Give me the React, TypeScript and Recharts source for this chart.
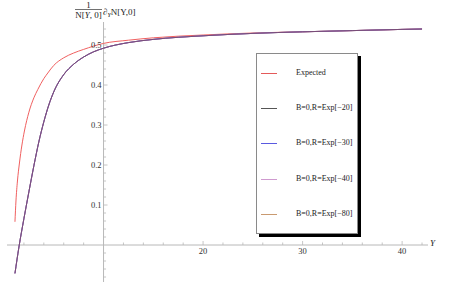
import { LineChart, Line, XAxis, YAxis, ReferenceLine, ReferenceDot, Legend } from "recharts";

const expectedY = [1.1, 1.2, 1.35, 1.55, 1.8, 2.05, 2.5, 3.0, 3.4, 4.0, 4.4, 5.0, 6.0, 7.0, 8.0, 10, 12.5, 15, 20, 25, 30, 35, 40, 42];
const expectedValues = [0.058, 0.11, 0.16, 0.205, 0.25, 0.285, 0.332, 0.368, 0.389, 0.416, 0.43, 0.449, 0.468, 0.48, 0.489, 0.504, 0.512, 0.518, 0.525, 0.53, 0.533, 0.536, 0.539, 0.54];

// the four cutoff curves lie on top of each other
const cutoffY = [1.1, 1.5, 2.0, 2.5, 3.0, 3.5, 4.0, 4.5, 5.0, 6.0, 7.0, 8.0, 9.0, 10, 12.5, 15, 20, 25, 30, 35, 40, 42];
const cutoffValues = [-0.071, -0.005, 0.066, 0.133, 0.198, 0.258, 0.308, 0.35, 0.383, 0.426, 0.452, 0.47, 0.483, 0.492, 0.506, 0.514, 0.523, 0.529, 0.533, 0.536, 0.539, 0.54];

const legendNames = ["Expected", "B=0,R=Exp[\u221220]", "B=0,R=Exp[\u221230]", "B=0,R=Exp[\u221240]", "B=0,R=Exp[\u221280]"];
const legendColors = ["#e45a5a", "#555555", "#5a5ae0", "#cf9acf", "#c99a70"];

const xMajorTicks = [20, 30, 40];
const xMinorTicks = [2, 4, 6, 8, 12, 14, 16, 18, 22, 24, 26, 28, 32, 34, 36, 38, 42];
const yMajorTicks = [0.1, 0.2, 0.3, 0.4, 0.5];
const yTickLabels = ["0.1", "0.2", "0.3", "0.4", "0.5"];
const yMinorTicks = [-0.08, -0.06, -0.04, -0.02, 0.02, 0.04, 0.06, 0.08, 0.12, 0.14, 0.16, 0.18, 0.22, 0.24, 0.26, 0.28, 0.32, 0.34, 0.36, 0.38, 0.42, 0.44, 0.46, 0.48, 0.52, 0.54];

const expectedData = expectedY.map((y, i) => ({ Y: y, v: expectedValues[i] }));
const cutoffData = cutoffY.map((y, i) => ({ Y: y, v: cutoffValues[i] }));

const SERIF = "'Liberation Serif', 'DejaVu Serif', serif";
const AXIS = "#b8b8b8";

const xTick = (label: string | null, len: number) => (p: any) => (
  <g>
    <line x1={p.cx} y1={p.cy} x2={p.cx} y2={p.cy - len} stroke={AXIS} strokeWidth={0.8} />
    {label && (
      <text x={p.cx} y={p.cy + 8.5} textAnchor="middle" fontSize={8.5} fontFamily={SERIF} fill="#333">
        {label}
      </text>
    )}
  </g>
);

const yTick = (label: string | null, len: number) => (p: any) => (
  <g>
    <line x1={p.cx} y1={p.cy} x2={p.cx + len} y2={p.cy} stroke={AXIS} strokeWidth={0.8} />
    {label && (
      <text x={p.cx - 2} y={p.cy + 3} textAnchor="end" fontSize={8.5} fontFamily={SERIF} fill="#333">
        {label}
      </text>
    )}
  </g>
);

const LegendBox = () => (
  <div
    style={{
      width: 100,
      height: 179,
      border: "1px solid #8a8a8a",
      background: "#fff",
      boxShadow: "3px 3px 0 #000",
      position: "relative",
      fontFamily: SERIF,
      fontSize: 8,
      color: "#222",
    }}
  >
    {legendNames.map((name, i) => (
      <div key={name} style={{ position: "absolute", left: 0, top: Math.round(14 + i * 35.2), height: 10, width: 100 }}>
        <div style={{ position: "absolute", left: 4, top: 5, width: 16, height: 1, background: legendColors[i] }} />
        <div style={{ position: "absolute", left: 39, top: 0, whiteSpace: "nowrap", lineHeight: "10px", fontFamily: SERIF }}>{name}</div>
      </div>
    ))}
  </div>
);

export default function App() {
  return (
    <div style={{ position: "absolute", left: 0, top: 0, width: 463, height: 289, background: "#fff" }}>
      <LineChart width={463} height={289} margin={{ top: 22, left: 7, right: 35, bottom: 7 }}>
        <XAxis type="number" dataKey="Y" domain={[0.3, 42.6]} allowDataOverflow hide />
        <YAxis type="number" domain={[-0.0925, 0.5575]} allowDataOverflow hide />
        <ReferenceLine x={10} stroke={AXIS} strokeWidth={1} />
        <ReferenceLine y={0} stroke={AXIS} strokeWidth={1} />
        {xMinorTicks.map((t) => (
          <ReferenceDot key={"xm" + t} x={t} y={0} r={0} shape={xTick(null, 2.5)} />
        ))}
        {xMajorTicks.map((t) => (
          <ReferenceDot key={"xM" + t} x={t} y={0} r={0} shape={xTick(String(t), 4)} />
        ))}
        {yMinorTicks.map((t) => (
          <ReferenceDot key={"ym" + t} x={10} y={t} r={0} shape={yTick(null, 2.5)} />
        ))}
        {yMajorTicks.map((t, i) => (
          <ReferenceDot key={"yM" + t} x={10} y={t} r={0} shape={yTick(yTickLabels[i], 4)} />
        ))}
        <Line data={expectedData} dataKey="v" name={legendNames[0]} type="monotone" stroke="#f06060" strokeWidth={1} dot={false} isAnimationActive={false} />
        <Line data={cutoffData} dataKey="v" name={legendNames[4]} type="monotone" stroke={legendColors[4]} strokeWidth={1} dot={false} isAnimationActive={false} />
        <Line data={cutoffData} dataKey="v" name={legendNames[2]} type="monotone" stroke={legendColors[2]} strokeWidth={1} dot={false} isAnimationActive={false} />
        <Line data={cutoffData} dataKey="v" name={legendNames[3]} type="monotone" stroke="#c080c0" strokeWidth={1} dot={false} isAnimationActive={false} />
        <Line data={cutoffData} dataKey="v" name={legendNames[1]} type="monotone" stroke="#4a2a44" strokeOpacity={0.6} strokeWidth={1} dot={false} isAnimationActive={false} />
        <Legend
          layout="vertical"
          align="center"
          verticalAlign="middle"
          content={() => <LegendBox />}
          wrapperStyle={{ position: "absolute", left: 256, top: 53, width: 102, height: 181 }}
        />
      </LineChart>
      <svg width={463} height={30} style={{ position: "absolute", left: 0, top: 0 }} fontFamily={SERIF} fill="#222">
        <text x={88.5} y={7.5} fontSize={9} textAnchor="middle">1</text>
        <line x1={75} y1={9.5} x2={102} y2={9.5} stroke="#333" strokeWidth={0.7} />
        <text x={88.5} y={18} fontSize={9} textAnchor="middle">
          N[<tspan fontStyle="italic">Y</tspan>, 0]
        </text>
        <text x={103} y={14.5} fontSize={9}>
          {"\u2202"}
          <tspan fontSize={6} fontStyle="italic" dy={2}>Y</tspan>
          <tspan dy={-2}>N[Y,0]</tspan>
        </text>
      </svg>
      <div style={{ position: "absolute", left: 430, top: 238, fontFamily: SERIF, fontStyle: "italic", fontSize: 9, color: "#222" }}>Y</div>
    </div>
  );
}
